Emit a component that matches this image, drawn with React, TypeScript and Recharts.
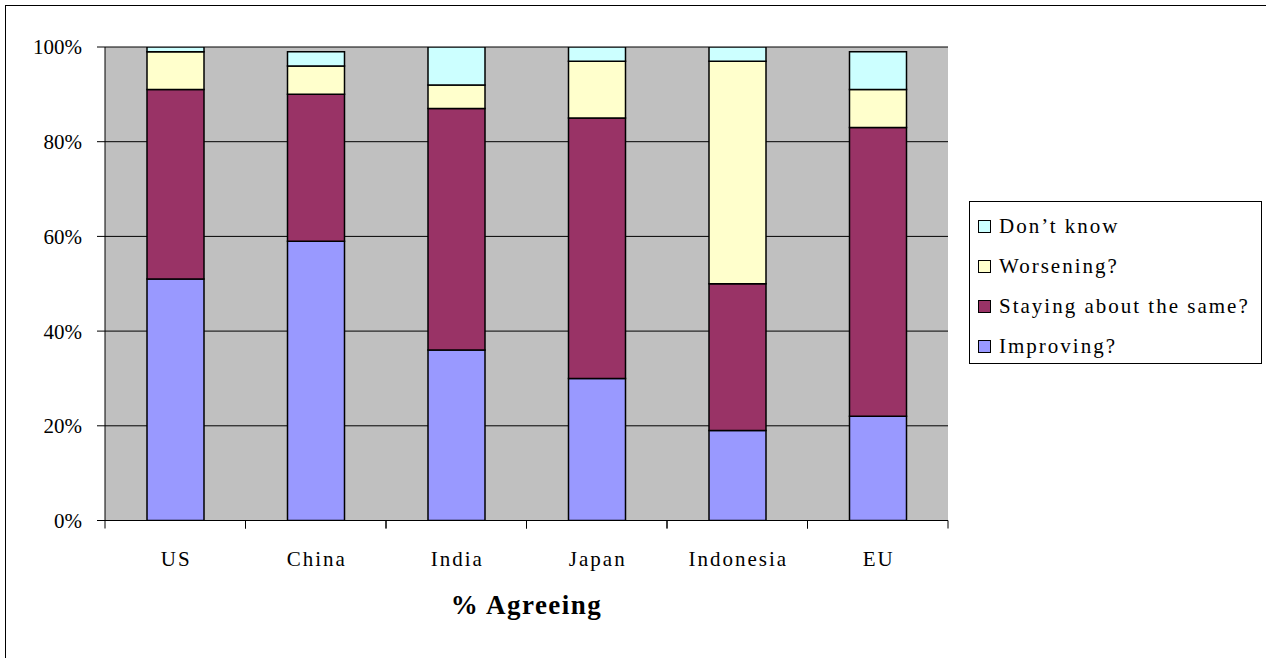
import React from "react";
import { Bar, BarChart, CartesianGrid, XAxis, YAxis } from "recharts";

const countries = ["US", "China", "India", "Japan", "Indonesia", "EU"];
const improving = [51, 59, 36, 30, 19, 22];
const stayingSame = [40, 31, 51, 55, 31, 61];
const worsening = [8, 6, 5, 12, 47, 8];
const dontKnow = [1, 3, 8, 3, 3, 8];
const yTicks = [0, 20, 40, 60, 80, 100];

const series = [
  { key: "improving", name: "Improving?", color: "#9999FF" },
  { key: "staying", name: "Staying about the same?", color: "#993366" },
  { key: "worsening", name: "Worsening?", color: "#FFFFCC" },
  { key: "dontKnow", name: "Don\u2019t know", color: "#CCFFFF" }
];

const data = countries.map((c, i) => ({
  country: c,
  improving: improving[i],
  staying: stayingSame[i],
  worsening: worsening[i],
  dontKnow: dontKnow[i]
}));

const FONT = "'Liberation Serif', 'Times New Roman', serif";
const BAND = (948 - 105) / countries.length;

function CountryTick({ x, y, payload }: any) {
  return (
    <g>
      <line x1={x - BAND / 2} y1={y - 8} x2={x - BAND / 2} y2={y} stroke="#000" />
      <line x1={x + BAND / 2} y1={y - 8} x2={x + BAND / 2} y2={y} stroke="#000" />
      <text
        x={x + 1}
        y={y + 33}
        textAnchor="middle"
        dominantBaseline="middle"
        fontFamily={FONT}
        fontSize={21}
        letterSpacing={2}
        fill="#000"
      >
        {payload.value}
      </text>
    </g>
  );
}

function LegendBox() {
  const items = [...series].reverse();
  return (
    <div
      style={{
        position: "absolute",
        left: 969,
        top: 201,
        width: 293,
        height: 163,
        border: "1px solid #000",
        background: "#fff",
        boxSizing: "border-box",
        padding: "4px 0 0 8px",
        fontFamily: FONT,
        fontSize: 21,
        letterSpacing: 2,
        color: "#000"
      }}
    >
      {items.map((it) => (
        <div key={it.key} style={{ display: "flex", alignItems: "center", height: 40 }}>
          <span
            style={{
              display: "inline-block",
              width: 11,
              height: 11,
              background: it.color,
              border: "1.5px solid #000",
              marginRight: 8,
              flex: "none"
            }}
          />
          <span style={{ whiteSpace: "nowrap" }}>{it.name}</span>
        </div>
      ))}
    </div>
  );
}

export default function App() {
  return (
    <div
      style={{
        position: "absolute",
        left: 0,
        top: 0,
        width: 1266,
        height: 658,
        overflow: "hidden",
        background: "#fff"
      }}
    >
      <div
        style={{
          position: "absolute",
          left: 5,
          top: 5,
          width: 1300,
          height: 700,
          borderTop: "1.5px solid #000",
          borderLeft: "1.5px solid #000"
        }}
      />
      <BarChart
        width={1266}
        height={658}
        data={data}
        margin={{ top: 47, right: 318, bottom: 0, left: 0 }}
        barSize={57}
        style={{ position: "absolute", left: 0, top: 0 }}
      >
        <CartesianGrid
          vertical={false}
          horizontal
          stroke="#000"
          fill="#C0C0C0"
          fillOpacity={1}
        />
        <XAxis
          dataKey="country"
          height={137.5}
          axisLine={{ stroke: "#000" }}
          tickLine={false}
          tick={<CountryTick />}
          interval={0}
          label={{
            value: "% Agreeing",
            position: "insideTop",
            offset: 74,
            fontFamily: FONT,
            fontSize: 27,
            fontWeight: "bold",
            letterSpacing: 1.5,
            fill: "#000"
          }}
        />
        <YAxis
          width={105}
          domain={[0, 100]}
          ticks={yTicks}
          tickFormatter={(v: number) => `${v}%`}
          tickSize={8}
          tickMargin={15}
          axisLine={{ stroke: "#000" }}
          tickLine={{ stroke: "#000" }}
          tick={{ fontFamily: FONT, fontSize: 21, fill: "#000" }}
          allowDataOverflow
        />
        {series.map((s) => (
          <Bar
            key={s.key}
            dataKey={s.key}
            name={s.name}
            stackId="a"
            fill={s.color}
            stroke="#000"
            strokeWidth={1.5}
            isAnimationActive={false}
          />
        ))}
      </BarChart>
      <LegendBox />
    </div>
  );
}
